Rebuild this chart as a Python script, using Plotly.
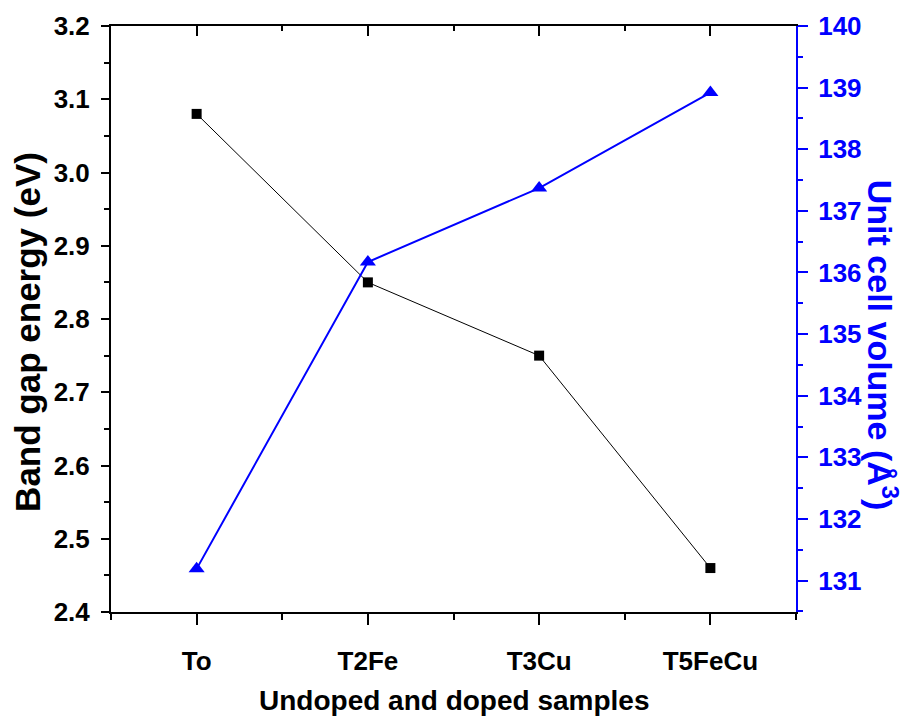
import plotly.graph_objects as go

samples = ["To", "T2Fe", "T3Cu", "T5FeCu"]
band_gap = [3.08, 2.85, 2.75, 2.46]
cell_volume = [131.19, 136.17, 137.37, 138.92]
left_ticks = [2.4, 2.5, 2.6, 2.7, 2.8, 2.9, 3.0, 3.1, 3.2]
right_ticks = [131, 132, 133, 134, 135, 136, 137, 138, 139, 140]
pos = list(range(len(samples)))

FONT = "Liberation Sans, Arial, sans-serif"
BLUE = "#0000ff"

fig = go.Figure()
fig.add_trace(go.Scatter(
    x=pos, y=band_gap, mode="lines+markers",
    line=dict(color="black", width=1),
    marker=dict(symbol="square", size=10, color="black"),
    showlegend=False, xaxis="x", yaxis="y"))
fig.add_trace(go.Scatter(
    x=pos, y=cell_volume, mode="lines+markers",
    line=dict(color=BLUE, width=2),
    marker=dict(symbol="triangle-up", size=14, color=BLUE),
    showlegend=False, xaxis="x", yaxis="y2"))
# invisible trace to anchor the top mirror axis
fig.add_trace(go.Scatter(
    x=pos, y=band_gap, mode="markers", marker=dict(opacity=0),
    hoverinfo="skip", showlegend=False, xaxis="x2", yaxis="y"))

tickfont = dict(family=FONT, size=26, color="black", weight=700)

fig.update_layout(
    width=904, height=721,
    margin=dict(l=111, r=108, t=26, b=109),
    paper_bgcolor="white", plot_bgcolor="white",
    xaxis=dict(
        range=[-0.5, 3.5], tickvals=pos, ticktext=[f"<b>{s}</b>" for s in samples],
        showgrid=False, zeroline=False,
        showline=True, linecolor="black", linewidth=2,
        ticks="outside", ticklen=11, tickwidth=2, tickcolor="black",
        minor=dict(dtick=0.5, tick0=-0.5, ticks="outside", ticklen=6, tickwidth=2, tickcolor="black"),
        tickfont=tickfont, ticklabelstandoff=14,
    ),
    xaxis2=dict(
        overlaying="x", side="top", anchor="y",
        range=[-0.5, 3.5], tickvals=pos, showticklabels=False,
        showgrid=False, zeroline=False,
        showline=True, linecolor="black", linewidth=2,
        ticks="inside", ticklen=10, tickwidth=2, tickcolor="black",
        minor=dict(dtick=0.5, tick0=-0.5, ticks="inside", ticklen=5, tickwidth=2, tickcolor="black"),
    ),
    yaxis=dict(
        range=[2.4, 3.2], tickvals=left_ticks,
        ticktext=[f"<b>{v:.1f}</b>" for v in left_ticks],
        showgrid=False, zeroline=False,
        showline=True, linecolor="black", linewidth=2,
        ticks="outside", ticklen=8, tickwidth=2, tickcolor="black",
        minor=dict(dtick=0.05, ticks="outside", ticklen=5, tickwidth=2, tickcolor="black"),
        tickfont=tickfont, ticklabelstandoff=6,
    ),
    yaxis2=dict(
        overlaying="y", side="right", anchor="x",
        range=[130.49, 140], tickvals=right_ticks,
        ticktext=[f"<b>{v}</b>" for v in right_ticks],
        showgrid=False, zeroline=False,
        showline=True, linecolor=BLUE, linewidth=2,
        ticks="outside", ticklen=10, tickwidth=2, tickcolor=BLUE,
        minor=dict(dtick=0.5, tick0=130.5, ticks="outside", ticklen=5, tickwidth=2, tickcolor=BLUE),
        tickfont=dict(family=FONT, size=26, color=BLUE, weight=700), ticklabelstandoff=5,
    ),
    annotations=[
        dict(text="<b>Band gap energy (eV)</b>", xref="paper", yref="paper",
             x=0, y=0.478, xshift=-83, xanchor="center", yanchor="middle",
             textangle=-90, showarrow=False,
             font=dict(family=FONT, size=35, color="black")),
        dict(text="<b>Unit cell volume (Å<sup>3</sup>)</b>", xref="paper", yref="paper",
             x=1, y=0.456, xshift=86, xanchor="center", yanchor="middle",
             textangle=90, showarrow=False,
             font=dict(family=FONT, size=34, color=BLUE)),
        dict(text="<b>Undoped and doped samples</b>", xref="paper", yref="paper",
             x=0.5, y=0, yshift=-88, xanchor="center", yanchor="middle",
             showarrow=False,
             font=dict(family=FONT, size=28, color="black")),
    ],
)

fig.write_html("out.html")
